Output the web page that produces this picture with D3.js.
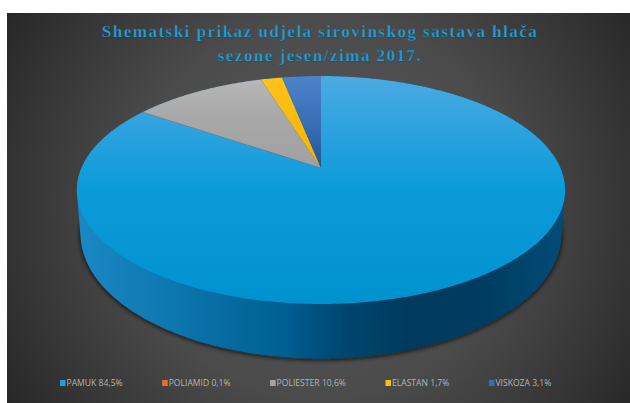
<!DOCTYPE html>
<html>
<head>
<meta charset="utf-8">
<script src="https://cdn.jsdelivr.net/npm/d3@7/dist/d3.min.js"></script>
<style>
html, body { margin: 0; padding: 0; background: #fff; }
svg { display: block; }
</style>
</head>
<body>
<svg id="chart" width="630" height="403"></svg>
<script>
// Fibre composition of trousers, autumn/winter 2017 season
const categories = ["PAMUK", "POLIAMID", "POLIESTER", "ELASTAN", "VISKOZA"];
const shares = [84.5, 0.1, 10.6, 1.7, 3.1];
const shareLabels = ["84,5%", "0,1%", "10,6%", "1,7%", "3,1%"];
const legendColors = ["#1f9fd8", "#e8702a", "#a5a5a5", "#ffc000", "#3a6fb5"];
const titleLines = ["Shematski prikaz udjela sirovinskog sastava hlača", "sezone jesen/zima 2017."];

const width = 630, height = 403;
const svg = d3.select("#chart");
const defs = svg.append("defs");

function linearGradient(id, x1, y1, x2, y2, stops) {
  const g = defs.append("linearGradient")
    .attr("id", id).attr("gradientUnits", "userSpaceOnUse")
    .attr("x1", x1).attr("y1", y1).attr("x2", x2).attr("y2", y2);
  stops.forEach(([o, c]) => g.append("stop").attr("offset", o).attr("stop-color", c));
}

// Panel background
const panel = { x: 7, y: 13, w: width - 7, h: height - 13 };
const bg = defs.append("radialGradient").attr("id", "panelBg")
  .attr("gradientUnits", "userSpaceOnUse")
  .attr("cx", 322).attr("cy", 208).attr("r", 380);
[[0, "#5a5a5a"], [0.5, "#4b4b4b"], [0.8, "#353535"], [1, "#252525"]]
  .forEach(([o, c]) => bg.append("stop").attr("offset", o).attr("stop-color", c));
svg.append("rect").attr("x", panel.x).attr("y", panel.y)
  .attr("width", panel.w).attr("height", panel.h).attr("fill", "url(#panelBg)");

// Perspective projection of the unit disc: the disc centre falls above the
// middle of the visible ellipse because the far side is foreshortened.
const tilt = -0.193;
const upperDisc = { cx: 321, cy: 168, sx: 239.5, sy: 77.3 };
const lowerDisc = { cx: 321, cy: 209.5, sx: 236, sy: 80 };
function projectDisc(disc, angle) {
  const u = Math.sin(angle), v = -Math.cos(angle);
  const d = 1 + tilt * v;
  return [disc.cx + disc.sx * u / d, (disc.cy + disc.sy * v) / d];
}

const pie = d3.pie().sort(null).startAngle(0).endAngle(2 * Math.PI);
const arcs = pie(shares);
const line = d3.line();

function sweep(disc, a0, a1) {
  const n = Math.max(2, Math.ceil((a1 - a0) / 0.01));
  return d3.range(n + 1).map(i => projectDisc(disc, a0 + (a1 - a0) * i / n));
}

// Side wall: hull of the upper and lower rims
const rimUpper = sweep(upperDisc, 0, 2 * Math.PI);
const rimLower = sweep(lowerDisc, 0, 2 * Math.PI);
const wall = d3.polygonHull(rimUpper.concat(rimLower));

defs.append("filter").attr("id", "soft")
  .attr("x", "-5%").attr("y", "-5%").attr("width", "110%").attr("height", "110%")
  .append("feGaussianBlur").attr("stdDeviation", 2.6);

svg.append("path").attr("d", line(rimLower) + "Z")
  .attr("transform", "translate(0,1)")
  .attr("fill", "#0c0c0c").attr("fill-opacity", 0.9).attr("filter", "url(#soft)");

linearGradient("wallFill", 80, 0, 562, 0, [
  [0, "#1a88c4"], [0.2, "#0c76ae"], [0.42, "#005f92"], [0.55, "#00466f"],
  [0.68, "#003a5e"], [0.85, "#003d62"], [1, "#014c76"]
]);
svg.append("path").attr("d", line(wall) + "Z").attr("fill", "url(#wallFill)");

// Upper face slices, shaded from the far edge to the near edge
const faces = [
  [[0, "#4caae2"], [0.25, "#2aa2de"], [0.5, "#0b9bd9"], [1, "#0092ce"]],
  [[0, "#ed7d31"], [1, "#d9661c"]],
  [[0, "#b9b9b9"], [0.4, "#a9a9a9"], [1, "#a0a0a0"]],
  [[0, "#ffc21a"], [1, "#f5b400"]],
  [[0, "#4e82c8"], [0.5, "#3a6fb8"], [1, "#1c5699"]]
];
const spans = [[76, 304], [76, 168], [76, 168], [76, 168], [76, 168]];
arcs.forEach((a, i) => {
  linearGradient("face" + i, 0, spans[i][0], 0, spans[i][1], faces[i]);
  const outline = [[upperDisc.cx, upperDisc.cy]]
    .concat(sweep(upperDisc, a.startAngle, a.endAngle));
  svg.append("path").attr("d", line(outline) + "Z").attr("fill", `url(#face${i})`);
});

// Title
svg.append("g").selectAll("text").data(titleLines).join("text")
  .attr("x", 320).attr("y", (d, i) => 37 + i * 23.5)
  .attr("text-anchor", "middle")
  .attr("font-family", "'Liberation Serif', serif")
  .attr("font-weight", "bold").attr("font-size", 17.2)
  .attr("letter-spacing", 1.4)
  .attr("fill", "#2b9ccf")
  .attr("stroke", "#0d3a50").attr("stroke-width", 0.25)
  .text(d => d);

// Legend: items flow left to right, spaced by their measured text width
const legend = svg.append("g");
let cursor = 60;
categories.forEach((c, i) => {
  legend.append("rect").attr("x", cursor).attr("y", 380)
    .attr("width", 5.5).attr("height", 6).attr("fill", legendColors[i]);
  const t = legend.append("text").attr("x", cursor + 6.5).attr("y", 386.4)
    .attr("font-family", "'Open Sans', sans-serif").attr("font-size", 8.6)
    .attr("fill", "#b4b4b4").text(`${c} ${shareLabels[i]}`);
  cursor += 6.5 + t.node().getComputedTextLength() + 39.5;
});
</script>
</body>
</html>
